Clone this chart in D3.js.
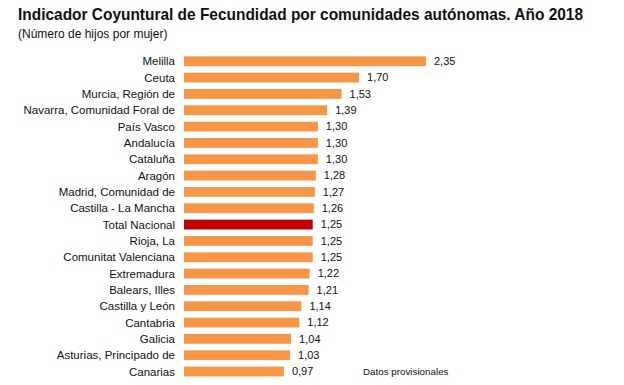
<!DOCTYPE html>
<html><head><meta charset="utf-8">
<script src="https://cdn.jsdelivr.net/npm/d3@7"></script>
<style>body{margin:0;background:#fff}svg{display:block}text{font-family:"Liberation Sans",Arial,sans-serif}</style>
</head><body>
<script>
const categories = ["Melilla","Ceuta","Murcia, Región de","Navarra, Comunidad Foral de","País Vasco","Andalucía","Cataluña","Aragón","Madrid, Comunidad de","Castilla - La Mancha","Total Nacional","Rioja, La","Comunitat Valenciana","Extremadura","Balears, Illes","Castilla y León","Cantabria","Galicia","Asturias, Principado de","Canarias"];
const values = [2.35,1.70,1.53,1.39,1.30,1.30,1.30,1.28,1.27,1.26,1.25,1.25,1.25,1.22,1.21,1.14,1.12,1.04,1.03,0.97];
const highlight = "Total Nacional";

const W = 624, H = 385;
const svg = d3.select("body").append("svg").attr("width", W).attr("height", H);

svg.append("text").attr("x", 18).attr("y", 20).attr("font-size", 16.5).attr("font-weight", "bold").attr("fill", "#111")
  .attr("textLength", 565).attr("lengthAdjust", "spacingAndGlyphs")
  .text("Indicador Coyuntural de Fecundidad por comunidades autónomas. Año 2018");
svg.append("text").attr("x", 18).attr("y", 38).attr("font-size", 12).attr("fill", "#111")
  .text("(Número de hijos por mujer)");

const x = d3.scaleLinear().domain([0, 2.35]).range([184, 426]);
const y = d3.scaleBand().domain(categories).range([53.1, 379.7]).paddingInner(0.4).paddingOuter(0.2);

const fmt = v => d3.format(".2f")(v).replace(".", ",");

const g = svg.append("g");
g.selectAll("rect").data(categories).join("rect")
  .attr("x", x(0)).attr("y", d => y(d)).attr("width", (d,i) => x(values[i]) - x(0)).attr("height", y.bandwidth())
  .attr("fill", d => d === highlight ? "#C00000" : "#F79646");

g.selectAll("text.cat").data(categories).join("text").attr("class","cat")
  .attr("x", 175).attr("y", d => y(d) + y.bandwidth()/2).attr("dy", "0.35em").attr("text-anchor", "end")
  .attr("font-size", 11.5).attr("fill", "#111").text(d => d);

g.selectAll("text.val").data(categories).join("text").attr("class","val")
  .attr("x", (d,i) => x(values[i]) + 8).attr("y", d => y(d) + y.bandwidth()/2).attr("dy", "0.35em")
  .attr("font-size", 11).attr("fill", "#111").text((d,i) => fmt(values[i]));

svg.append("text").attr("x", 363).attr("y", 375).attr("font-size", 9.8).attr("fill", "#111").text("Datos provisionales");
</script>
</body></html>
